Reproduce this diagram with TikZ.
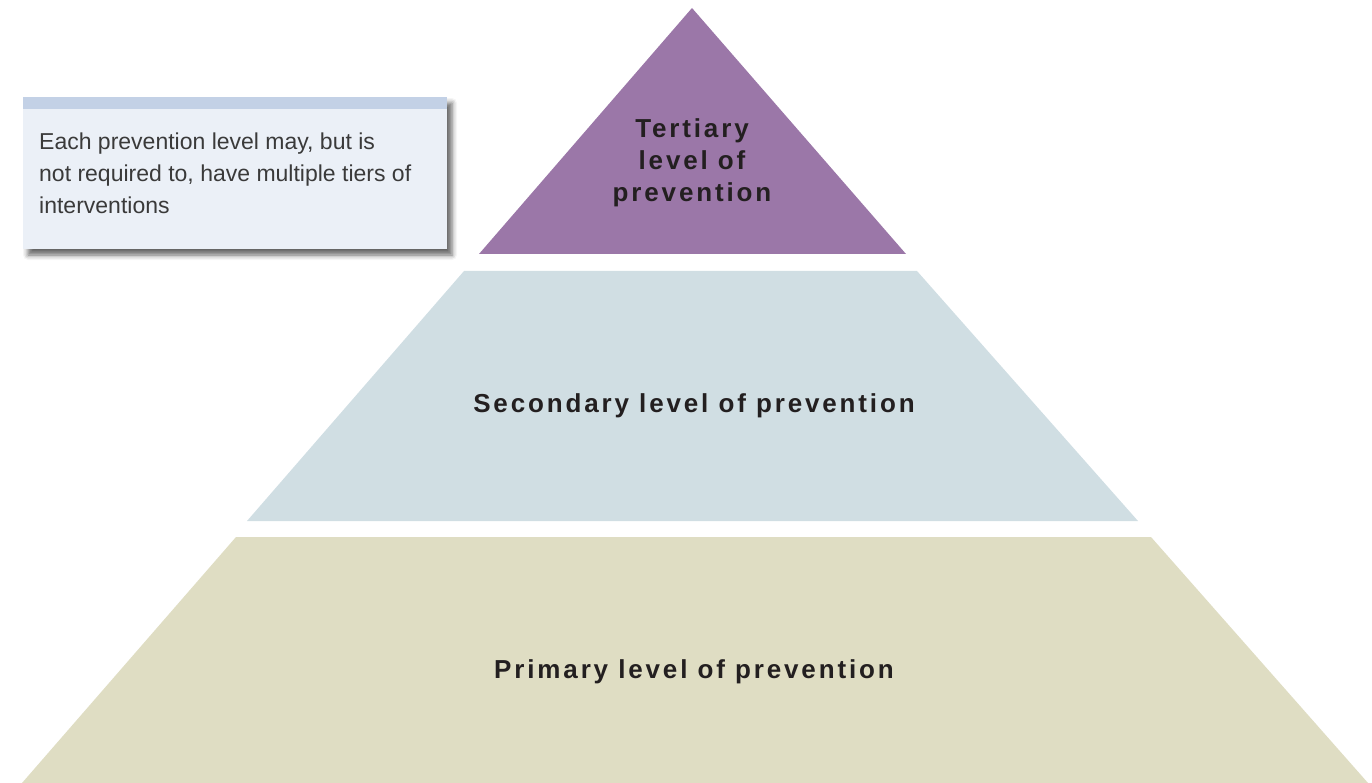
\documentclass[tikz,border=0pt]{standalone}
\usepackage{fontspec}
\setmainfont{Liberation Sans}
\newfontfamily\trackedbold[LetterSpace=11]{Liberation Sans}
\usetikzlibrary{shadows.blur}
\definecolor{tertiary}{HTML}{9B77A8}
\definecolor{secondary}{HTML}{D0DEE3}
\definecolor{primary}{HTML}{DFDDC3}
\definecolor{notebar}{HTML}{C3D1E6}
\definecolor{notebody}{HTML}{EBF0F7}
\definecolor{labeltext}{HTML}{231F20}
\definecolor{notetext}{HTML}{3A3A3A}
\tikzset{
  levellabel/.style={font=\trackedbold\bfseries\fontsize{26}{32}\selectfont, text=labeltext, align=center, inner sep=0pt},
  notelabel/.style={font=\fontsize{23}{32}\selectfont, text=notetext, align=left, anchor=north west, inner sep=0pt},
}
\begin{document}
\begin{tikzpicture}[x=1pt,y=-1pt]
\useasboundingbox (0,0) rectangle (1372,783);
% pyramid levels
\fill[primary] (236,537) -- (1151,537) -- (1368,783) -- (22,783) -- cycle;
\fill[secondary] (464,271) -- (917,271) -- (1138,521) -- (247,521) -- cycle;
\fill[tertiary] (692,8) -- (906,254) -- (479,254) -- cycle;
\node[levellabel] (ter) at (692,163) {Tertiary\\level of\\prevention};
\node[levellabel] (sec) at (694,406) {Secondary level of prevention};
\node[levellabel] (pri) at (694,672) {Primary level of prevention};
% note box
\fill[notebody, blur shadow={shadow xshift=5pt, shadow yshift=-6pt, shadow blur radius=5pt, shadow opacity=60}] (23,97) rectangle (447,249);
\fill[notebar] (23,97) rectangle (447,109);
\node[notelabel] (note) at (39,133) {Each prevention level may, but is\\not required to, have multiple tiers of\\interventions};
\end{tikzpicture}
\end{document}
